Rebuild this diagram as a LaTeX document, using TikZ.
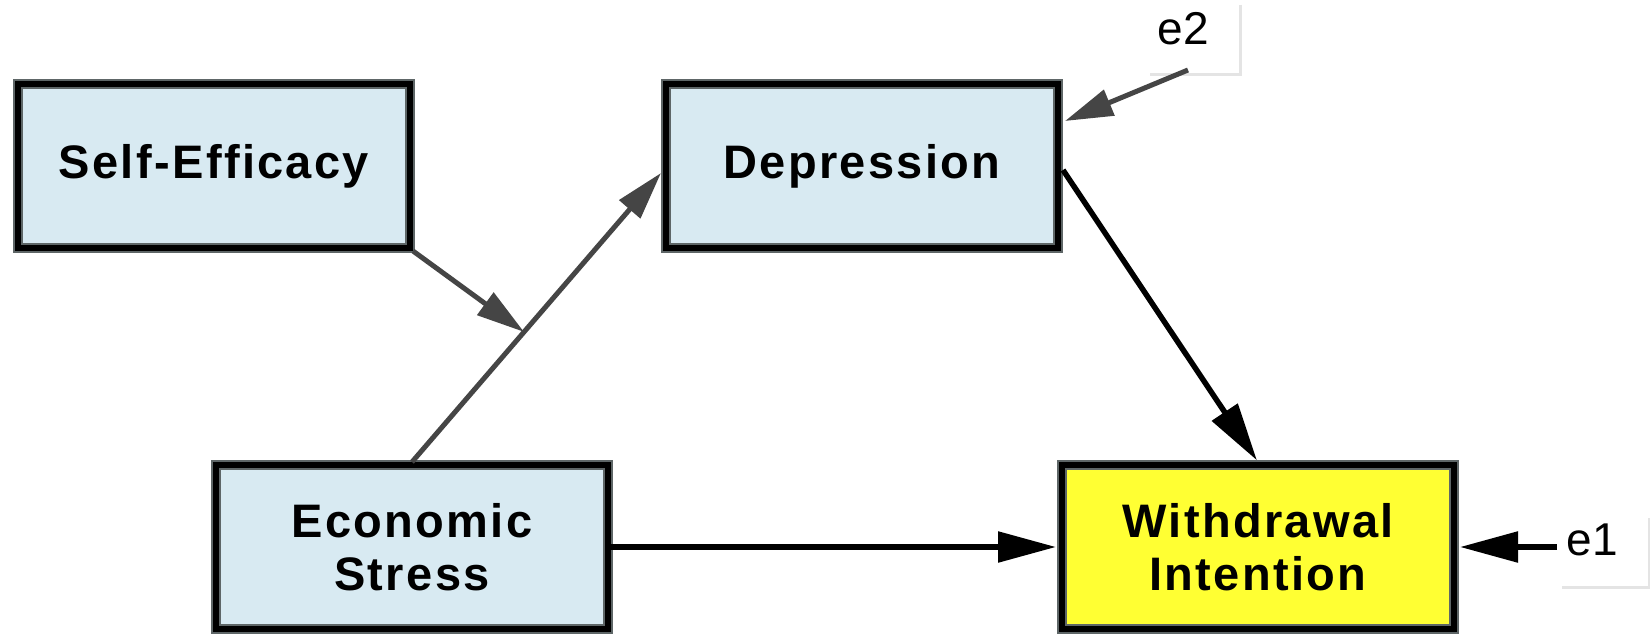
\documentclass[tikz,border=0pt]{standalone}
\usepackage{fontspec}
\setmainfont{Liberation Sans}
\newfontfamily\labelfont[LetterSpace=5]{Liberation Sans}
\usetikzlibrary{arrows.meta,calc}
\definecolor{boxblue}{HTML}{D8EAF2}
\definecolor{boxyellow}{HTML}{FFFF33}
\definecolor{rimgray}{HTML}{5E6667}
\definecolor{pathgray}{HTML}{454545}
\definecolor{shadowgray}{HTML}{E4E4E4}

\begin{document}
\begin{tikzpicture}[x=1pt,y=-1pt,
  varbox/.style={rectangle, inner sep=0pt, minimum width=392pt, minimum height=164pt,
    align=center, font=\labelfont\bfseries\fontsize{47}{53}\selectfont,
    preaction={fill=#1}, preaction={draw=rimgray, line width=10pt},
    draw=black, line width=6pt},
  varbox/.default=boxblue,
  errlabel/.style={inner sep=0pt, font=\fontsize{46}{52}\selectfont},
  blackpath/.style={draw=black, line width=5.5pt,
    -{Triangle[length=58pt,width=30pt]}},
  graypath/.style={draw=pathgray, line width=5pt,
    -{Triangle[length=48pt,width=27pt]}},
  errshadow/.style={draw=shadowgray, line width=3pt}]

\useasboundingbox[fill=white] (0,0) rectangle (1650,634);

% observed variables
\node[varbox] (se) at (214,166) {Self-Efficacy};
\node[varbox] (dep) at (862,166) {Depression};
\node[varbox] (es) at (412,547) {Economic\\Stress};
\node[varbox=boxyellow] (wi) at (1258,547) {Withdrawal\\Intention};

% error terms with their faint frame edges
\draw[errshadow] (1240,5) |- (1150,75);
\draw[errshadow] (1649,518) |- (1562,587);
\node[errlabel] (e2) at (1183,29) {e2};
\node[errlabel] (e1) at (1592,540) {e1};
\coordinate (e2tail) at (1188,70);
\coordinate (e1tail) at (1557,547);

% anchor points on the boxes
\coordinate (depin) at ($(dep.west)+(-2,7)$);
\coordinate (depout) at ($(dep.east)+(2,4)$);
\coordinate (dephook) at ($(dep.north east)+(4,40)$);
\coordinate (moderate) at ($(es.north)!0.45!(depin)$);

% paths
\draw[graypath] (es.north) -- (depin);
\draw[graypath] (se.south east) -- (moderate);
\draw[graypath] (e2tail) -- (dephook);
\draw[blackpath, shorten >=2pt] (depout) -- (wi.north);
\draw[blackpath, shorten >=3pt] (es.east) -- (wi.west);
\draw[blackpath, shorten >=3pt] (e1tail) -- (wi.east);

\end{tikzpicture}
\end{document}
